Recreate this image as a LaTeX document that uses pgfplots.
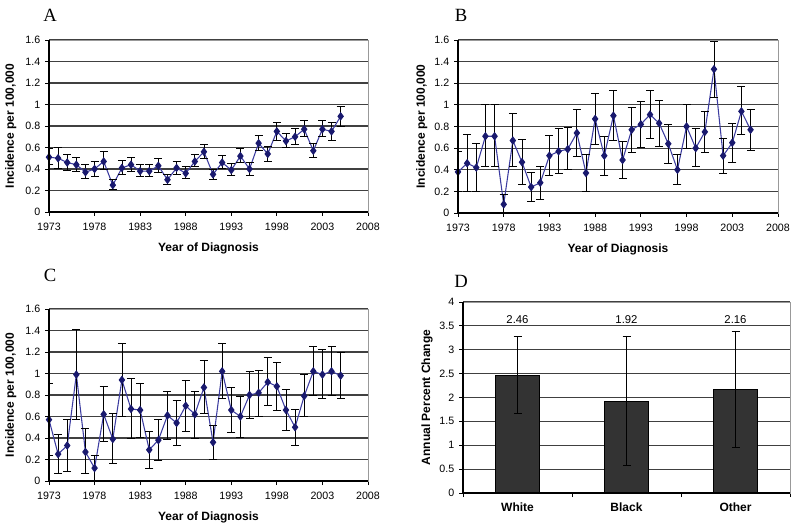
\documentclass[border=0pt]{standalone}
\usepackage{pgfplots}
\pgfplotsset{compat=1.18}
\usepackage{pgfplotstable}
\usepackage{fontspec}
\setmainfont{Liberation Sans}
\newfontfamily\seriffont{Liberation Serif}
\definecolor{lineblue}{RGB}{60,60,160}
\definecolor{markblue}{RGB}{25,25,110}
\definecolor{barfill}{RGB}{51,51,51}

\pgfplotstableread{
year v lo hi
1973 0.51 0.44 0.59
1974 0.50 0.41 0.60
1975 0.46 0.39 0.54
1976 0.44 0.38 0.51
1977 0.37 0.31 0.44
1978 0.40 0.33 0.47
1979 0.47 0.40 0.56
1980 0.25 0.21 0.30
1981 0.41 0.35 0.48
1982 0.44 0.38 0.51
1983 0.38 0.33 0.44
1984 0.38 0.33 0.44
1985 0.43 0.37 0.50
1986 0.30 0.26 0.35
1987 0.41 0.35 0.47
1988 0.36 0.31 0.42
1989 0.47 0.42 0.54
1990 0.56 0.50 0.63
1991 0.35 0.30 0.40
1992 0.46 0.41 0.53
1993 0.39 0.34 0.45
1994 0.52 0.46 0.59
1995 0.40 0.34 0.46
1996 0.64 0.57 0.71
1997 0.54 0.47 0.61
1998 0.75 0.67 0.83
1999 0.66 0.60 0.73
2000 0.70 0.63 0.78
2001 0.77 0.70 0.85
2002 0.57 0.51 0.64
2003 0.77 0.70 0.85
2004 0.75 0.67 0.83
2005 0.89 0.80 0.98
}\tA

\pgfplotstableread{
year v lo hi
1973 0.38 0.20 0.57
1974 0.46 0.20 0.73
1975 0.42 0.20 0.64
1976 0.71 0.43 1.00
1977 0.71 0.43 1.00
1978 0.08 0.00 0.17
1979 0.67 0.43 0.92
1980 0.47 0.26 0.68
1981 0.24 0.11 0.38
1982 0.28 0.13 0.43
1983 0.53 0.35 0.72
1984 0.57 0.37 0.78
1985 0.59 0.40 0.79
1986 0.74 0.52 0.96
1987 0.37 0.20 0.54
1988 0.87 0.63 1.11
1989 0.53 0.35 0.71
1990 0.90 0.67 1.13
1991 0.49 0.32 0.66
1992 0.77 0.56 0.98
1993 0.82 0.61 1.03
1994 0.91 0.69 1.13
1995 0.83 0.62 1.04
1996 0.64 0.46 0.82
1997 0.40 0.26 0.54
1998 0.80 0.60 1.00
1999 0.60 0.43 0.78
2000 0.75 0.56 0.94
2001 1.33 1.07 1.59
2002 0.53 0.37 0.69
2003 0.65 0.47 0.83
2004 0.94 0.73 1.17
2005 0.77 0.58 0.96
}\tB

\pgfplotstableread{
year v lo hi
1973 0.57 0.24 0.91
1974 0.25 0.07 0.43
1975 0.33 0.09 0.57
1976 0.99 0.57 1.41
1977 0.27 0.07 0.49
1978 0.12 0.00 0.24
1979 0.62 0.37 0.88
1980 0.39 0.16 0.63
1981 0.94 0.60 1.28
1982 0.67 0.40 0.95
1983 0.66 0.41 0.91
1984 0.29 0.12 0.46
1985 0.38 0.19 0.57
1986 0.61 0.39 0.83
1987 0.54 0.33 0.75
1988 0.70 0.46 0.94
1989 0.62 0.40 0.83
1990 0.87 0.63 1.12
1991 0.36 0.20 0.52
1992 1.02 0.77 1.28
1993 0.66 0.45 0.87
1994 0.60 0.41 0.79
1995 0.80 0.58 1.02
1996 0.82 0.60 1.03
1997 0.92 0.70 1.15
1998 0.88 0.66 1.10
1999 0.66 0.47 0.85
2000 0.50 0.33 0.67
2001 0.79 0.60 0.99
2002 1.02 0.80 1.25
2003 0.99 0.77 1.22
2004 1.02 0.80 1.25
2005 0.98 0.77 1.20
}\tC

\pgfplotstableread{
x v lo hi
0 2.46 1.67 3.27
1 1.92 0.58 3.29
2 2.16 0.95 3.38
}\tD

\pgfplotsset{
  base/.style={
    scale only axis,
    anchor=south west,
    axis line style={draw=black!40, line width=0.7pt},
    tick align=outside, tick pos=left,
    major tick length=3pt,
    every tick/.style={black, line width=0.6pt},
    ymajorgrids,
    grid style={draw=black!75, line width=0.9pt},
    /pgf/number format/assume math mode=true,
    ticklabel style={font=\fontsize{8}{9}\selectfont},
    label style={font=\bfseries\fontsize{9}{10}\selectfont},
    extra description/.code={
      \draw[black, line width=0.8pt] (rel axis cs:0,1) -- (rel axis cs:0,0) -- (rel axis cs:1,0);
    },
  },
  linepanel/.style={
    base,
    xmin=1973, xmax=2008,
    xtick={1973,1978,1983,1988,1993,1998,2003,2008},
    xticklabel style={/pgf/number format/1000 sep={}, yshift=-2pt},
    ymin=0, ymax=1.6,
    ytick={0,0.2,0.4,0.6,0.8,1,1.2,1.4,1.6},
    xlabel={Year of Diagnosis},
    ylabel={Incidence per 100,000},
    xlabel style={at={(axis description cs:0.5,-0.21)}, anchor=center},
    ylabel style={at={(axis description cs:-0.12,0.5)}, anchor=center},
  },
  series/.style={
    color=lineblue, line width=0.8pt,
    mark=diamond*, mark size=2.6pt,
    mark options={fill=markblue, draw=markblue},
    error bars/.cd, y dir=both, y explicit,
    error bar style={black, line width=0.6pt},
    error mark options={rotate=90, black, mark size=3pt, line width=0.6pt},
  },
}

\begin{document}
\begin{tikzpicture}
\path[use as bounding box] (0,0) rectangle (600pt,396.75pt);

\node[font=\seriffont\fontsize{14}{16}\selectfont] at (37.5pt,385.5pt) {A};
\node[font=\seriffont\fontsize{14}{16}\selectfont] at (345.75pt,385.5pt) {B};
\node[font=\seriffont\fontsize{14}{16}\selectfont] at (37.5pt,190.5pt) {C};
\node[font=\seriffont\fontsize{14}{16}\selectfont] at (345.75pt,186pt) {D};

\begin{axis}[linepanel, at={(36.75pt,237.75pt)}, width=239.25pt, height=129pt]
\addplot[series] table[x=year, y=v, y error plus expr=\thisrow{hi}-\thisrow{v}, y error minus expr=\thisrow{v}-\thisrow{lo}] {\tA};
\end{axis}

\begin{axis}[linepanel, at={(343.5pt,237pt)}, width=240pt, height=129.75pt,
  ylabel style={at={(axis description cs:-0.113,0.5)}, anchor=center}]
\addplot[series] table[x=year, y=v, y error plus expr=\thisrow{hi}-\thisrow{v}, y error minus expr=\thisrow{v}-\thisrow{lo}] {\tB};
\end{axis}

\begin{axis}[linepanel, at={(36.75pt,36pt)}, width=239.25pt, height=129pt]
\addplot[series] table[x=year, y=v, y error plus expr=\thisrow{hi}-\thisrow{v}, y error minus expr=\thisrow{v}-\thisrow{lo}] {\tC};
\end{axis}

\begin{axis}[base, at={(347.25pt,27pt)}, width=245.25pt, height=143.25pt,
  xmin=-0.5, xmax=2.5,
  xtick={-0.5,0.5,1.5,2.5}, xticklabels={},
  extra x ticks={0,1,2},
  extra x tick labels={White,Black,Other},
  extra x tick style={major tick length=0pt, xticklabel style={font=\bfseries\fontsize{9}{10}\selectfont, yshift=-4pt}},
  ymin=0, ymax=4,
  ytick={0,0.5,1,1.5,2,2.5,3,3.5,4},
  ylabel={Annual Percent Change},
  ylabel style={at={(axis description cs:-0.11,0.5)}, anchor=center},
]
\addplot[ybar, bar width=33pt, fill=barfill, draw=black, line width=0.6pt,
  error bars/.cd, y dir=both, y explicit,
  error bar style={black, line width=0.6pt},
  error mark options={rotate=90, black, mark size=3pt, line width=0.6pt}]
  table[x=x, y=v, y error plus expr=\thisrow{hi}-\thisrow{v}, y error minus expr=\thisrow{v}-\thisrow{lo}] {\tD};
\node[font=\fontsize{8.5}{10}\selectfont] at (axis cs:0,3.64) {2.46};
\node[font=\fontsize{8.5}{10}\selectfont] at (axis cs:1,3.64) {1.92};
\node[font=\fontsize{8.5}{10}\selectfont] at (axis cs:2,3.64) {2.16};
\end{axis}
\end{tikzpicture}
\end{document}
